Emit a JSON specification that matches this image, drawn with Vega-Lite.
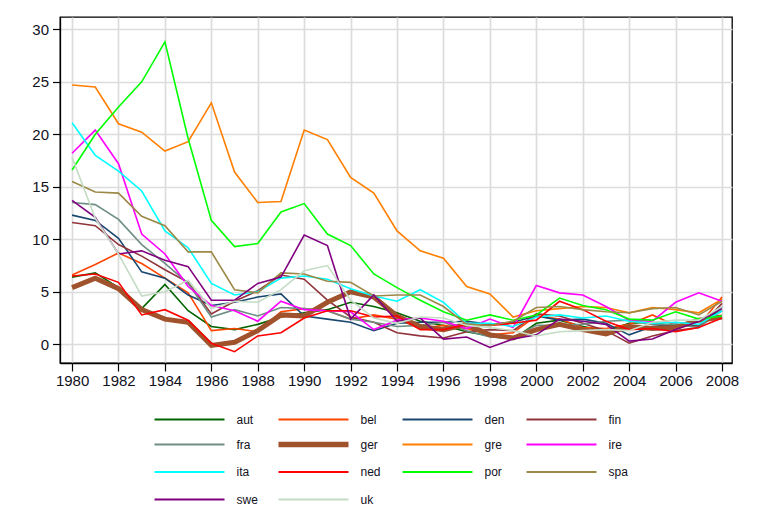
{
  "$schema": "https://vega.github.io/schema/vega-lite/v6.json",
  "width": 672,
  "height": 346,
  "autosize": "none",
  "padding": {"left": 60, "top": 17, "right": 52, "bottom": 155},
  "background": "white",
  "config": {
    "view": {"stroke": "black", "strokeWidth": 1.3},
    "font": "Liberation Sans",
    "axis": {"gridColor": "#dcdcdc", "gridWidth": 1.7, "domainColor": "black", "domainWidth": 1.3, "tickColor": "black", "tickWidth": 1.2, "labelColor": "#111122", "labelFontSize": 15, "labelFont": "Liberation Sans", "title": null}
  },
  "datasets": {
    "infl": [
      {"country":"aut","values":[6.4,6.8,5.4,3.4,5.7,3.2,1.7,1.4,1.9,2.6,3.0,3.3,4.0,3.6,3.0,2.2,1.8,1.2,0.8,0.5,2.0,2.3,1.7,1.3,2.0,2.1,1.7,2.2,3.2]},
      {"country":"bel","values":[6.6,7.6,8.7,7.7,6.3,4.9,1.3,1.5,1.2,3.1,3.4,3.2,2.4,2.8,2.4,1.5,1.8,1.5,0.9,1.1,2.7,2.4,1.6,1.5,1.9,2.8,1.8,1.8,4.5]},
      {"country":"den","values":[12.3,11.8,10.1,6.9,6.3,4.7,3.7,4.0,4.5,4.8,2.7,2.4,2.1,1.3,2.0,2.1,2.1,2.2,1.9,2.1,2.7,2.3,2.4,2.0,0.9,1.7,1.9,1.7,3.6]},
      {"country":"fin","values":[11.6,11.3,9.5,8.4,7.1,5.9,2.9,4.1,5.1,6.6,6.2,4.2,2.6,2.1,1.1,0.8,0.6,1.2,1.4,1.3,2.9,2.7,2.0,1.3,0.1,0.8,1.3,1.6,3.9]},
      {"country":"fra","values":[13.5,13.3,11.9,9.5,7.7,5.8,2.6,3.3,2.7,3.5,3.4,3.2,2.4,2.1,1.7,1.8,2.1,1.3,0.7,0.6,1.8,1.8,1.9,2.2,2.3,1.9,1.9,1.6,3.2]},
      {"country":"ger","values":[5.4,6.3,5.3,3.3,2.4,2.1,-0.1,0.2,1.3,2.8,2.7,4.0,5.0,4.5,2.7,1.7,1.4,1.9,0.9,0.6,1.4,1.9,1.4,1.0,1.7,1.5,1.6,2.3,2.6]},
      {"country":"gre","values":[24.7,24.5,21.0,20.2,18.4,19.3,23.0,16.4,13.5,13.6,20.4,19.5,15.9,14.4,10.8,8.9,8.2,5.5,4.8,2.6,3.2,3.4,3.6,3.5,3.0,3.5,3.3,3.0,4.3]},
      {"country":"ire","values":[18.2,20.4,17.2,10.5,8.6,5.5,3.7,3.2,2.2,4.1,3.3,3.2,3.1,1.4,2.3,2.5,2.2,1.5,2.4,1.6,5.6,4.9,4.7,3.6,2.3,2.2,4.0,4.9,4.1]},
      {"country":"ita","values":[21.1,18.0,16.5,14.6,10.8,9.2,5.8,4.7,5.0,6.3,6.5,6.2,5.3,4.6,4.1,5.2,4.0,2.0,2.0,1.7,2.6,2.8,2.5,2.7,2.2,2.0,2.1,1.9,3.2]},
      {"country":"ned","values":[6.5,6.7,5.9,2.8,3.3,2.3,0.1,-0.7,0.8,1.1,2.5,3.2,3.2,2.6,2.7,1.4,1.4,1.9,1.8,2.0,2.3,4.1,3.3,2.2,1.4,1.5,1.2,1.6,2.5]},
      {"country":"por","values":[16.6,20.0,22.6,25.0,28.8,19.6,11.8,9.3,9.6,12.6,13.4,10.5,9.4,6.7,5.4,4.2,3.1,2.3,2.8,2.3,2.8,4.4,3.7,3.3,2.4,2.3,3.1,2.4,2.7]},
      {"country":"spa","values":[15.5,14.5,14.4,12.2,11.3,8.8,8.8,5.2,4.9,6.8,6.7,6.0,5.9,4.6,4.7,4.7,3.6,1.9,1.8,2.2,3.5,3.6,3.3,3.1,3.0,3.4,3.5,2.8,4.1]},
      {"country":"swe","values":[13.7,12.1,8.6,8.9,8.0,7.4,4.2,4.2,5.8,6.4,10.4,9.4,2.4,4.7,2.2,2.5,0.5,0.7,-0.3,0.5,0.9,2.4,2.2,1.9,0.3,0.5,1.4,2.2,3.4]},
      {"country":"uk","values":[17.8,12.0,8.6,4.6,5.0,6.1,3.4,4.1,4.0,5.2,7.0,7.5,4.2,2.5,2.0,2.6,2.5,1.8,1.6,1.3,0.8,1.2,1.3,1.4,1.3,2.1,2.3,2.3,3.6]}
    ],
    "years": [
      {"i":1,"year":1980},{"i":2,"year":1981},{"i":3,"year":1982},{"i":4,"year":1983},{"i":5,"year":1984},{"i":6,"year":1985},{"i":7,"year":1986},{"i":8,"year":1987},{"i":9,"year":1988},{"i":10,"year":1989},{"i":11,"year":1990},{"i":12,"year":1991},{"i":13,"year":1992},{"i":14,"year":1993},{"i":15,"year":1994},{"i":16,"year":1995},{"i":17,"year":1996},{"i":18,"year":1997},{"i":19,"year":1998},{"i":20,"year":1999},{"i":21,"year":2000},{"i":22,"year":2001},{"i":23,"year":2002},{"i":24,"year":2003},{"i":25,"year":2004},{"i":26,"year":2005},{"i":27,"year":2006},{"i":28,"year":2007},{"i":29,"year":2008}
    ]
  },
  "data": {"name": "infl"},
  "transform": [
    {"flatten": ["values"], "as": ["rate"]},
    {"window": [{"op": "row_number", "as": "rn"}], "groupby": ["country"]},
    {"lookup": "rn", "from": {"data": {"name": "years"}, "key": "i", "fields": ["year"]}, "default": null}
  ],
  "mark": {"type": "line", "strokeJoin": "miter", "clip": true},
  "encoding": {
    "x": {"field": "year", "type": "quantitative",
      "scale": {"domain": [1979.48, 2008.43], "nice": false, "zero": false},
      "axis": {"values": [1980,1982,1984,1986,1988,1990,1992,1994,1996,1998,2000,2002,2004,2006,2008], "format": "d", "tickSize": 8, "labelPadding": 2}},
    "y": {"field": "rate", "type": "quantitative",
      "scale": {"domain": [-1.78, 31.17], "nice": false, "zero": false},
      "axis": {"values": [0,5,10,15,20,25,30], "tickSize": 7.5, "labelPadding": 4}},
    "color": {"field": "country", "type": "nominal",
      "scale": {"domain": ["aut","bel","den","fin","fra","ger","gre","ire","ita","ned","por","spa","swe","uk"],
        "range": ["#006400","#ff4500","#1a476f","#90353b","#6e8e84","#a0522d","#ff7f00","#ff00ff","#00ffff","#ff0000","#00ff00","#9c8847","#800080","#c5dcc5"]},
      "legend": {"orient": "none", "legendX": 95, "legendY": 394, "direction": "horizontal", "columns": 4, "title": null,
        "symbolType": "stroke", "symbolSize": 4900, "symbolStrokeWidth": 2, "symbolOffset": 28.5, "labelFontSize": 12, "labelColor": "#111122", "labelOffset": 41, "columnPadding": 9, "rowPadding": 5.5, "gridAlign": "all",
        "encode": {"symbols": {"update": {"strokeWidth": {"signal": "datum.value === 'ger' ? 5.5 : 2"}}}}}},
    "strokeWidth": {"condition": {"test": "datum.country === 'ger'", "value": 5}, "value": 1.6}
  }
}
